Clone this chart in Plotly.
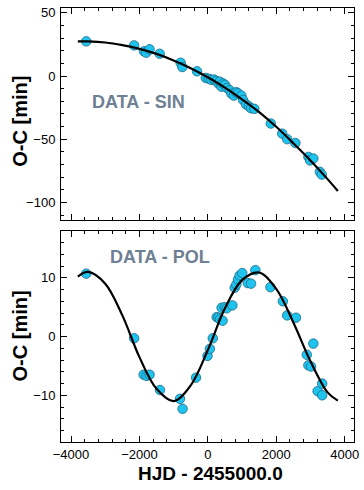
import plotly.graph_objects as go

# ---- Top panel: DATA - SIN ----
sin_x = [-3555, -2155, -1868, -1801, -1704, -1408, -796, -747, -316, -60, 30, 100, 180,
         250, 310, 350, 400, 450, 500, 560, 640, 690, 760, 830, 880, 980, 1030, 1120,
         1200, 1260, 1360, 1840, 2175, 2320, 2560, 2940, 2990, 3085, 3275, 3330]
sin_y = [27.4, 24.2, 19.5, 18.4, 21.1, 17.6, 10.5, 7.1, 3.7, -1.5, -2.2, -3.0, -2.8,
         -4.0, -6.0, -4.5, -8.5, -6.0, -7.0, -9.5, -11.3, -14.0, -15.5, -12.8, -13.6,
         -15.5, -19.0, -22.5, -24.0, -25.5, -26.0, -37.6, -45.6, -50.0, -53.0, -64.0,
         -66.8, -65.3, -75.8, -78.0]
fit_sin_x = [-3800, -3500, -3000, -2500, -2000, -1500, -1000, -500, 0, 500, 1000,
             1500, 2000, 2500, 3000, 3500, 3800]
fit_sin_y = [27.4, 27.4, 26.5, 24.4, 21.5, 17.5, 12.3, 6.2, -1.0, -9.2, -18.5,
             -28.5, -40.2, -53.2, -66.8, -81.6, -91.0]

# ---- Bottom panel: DATA - POL ----
pol_x = [-3555, -2155, -1877, -1790, -1704, -1400, -814, -739, -345, -10, 60, 144,
         259, 310, 354, 402, 430, 497, 550, 718, 785, 833, 882, 930, 1006, 1169, 1264,
         1389, 1830, 2193, 2319, 2577, 2893, 2940, 3017, 3084, 3209, 3342, 3342]
pol_y = [10.7, -0.3, -6.5, -6.7, -6.5, -9.1, -10.6, -12.3, -7.0, -3.3, -2.1, -0.3,
         3.3, 3.2, 2.9, 4.9, 2.7, 5.0, 4.8, 5.3, 8.3, 8.85, 9.7, 10.4, 10.8, 9.1, 9.0,
         11.3, 8.4, 6.0, 3.6, 3.2, -3.1, -4.9, -5.1, -1.2, -9.3, -8.0, -10.0]
fit_pol_x = [-3800, -3500, -3000, -2500, -2000, -1500, -1000, -500, 0, 500, 1000,
             1500, 2000, 2500, 3000, 3500, 3800]
fit_pol_y = [10.2, 11.0, 9.0, 3.6, -3.5, -8.9, -11.0, -8.3, -2.3, 4.8, 9.6, 10.9,
             8.1, 2.4, -4.2, -9.5, -10.9]

x_range = [-4293, 4273]
top_y_range = [-113.8, 53.8]
bot_y_range = [-17.95, 18.0]

FONT = "Liberation Sans, Arial, Helvetica, sans-serif"
marker = dict(size=9.5, color="#1fc4ee", line=dict(color="#1d6a86", width=0.8))
fitline = dict(color="black", width=2.2, shape="spline")

fig = go.Figure()
fig.add_trace(go.Scatter(x=sin_x, y=sin_y, mode="markers", marker=marker,
                         xaxis="x", yaxis="y", showlegend=False))
fig.add_trace(go.Scatter(x=fit_sin_x, y=fit_sin_y, mode="lines", line=fitline,
                         xaxis="x", yaxis="y", showlegend=False))
fig.add_trace(go.Scatter(x=pol_x, y=pol_y, mode="markers", marker=marker,
                         xaxis="x2", yaxis="y2", showlegend=False))
fig.add_trace(go.Scatter(x=fit_pol_x, y=fit_pol_y, mode="lines", line=fitline,
                         xaxis="x2", yaxis="y2", showlegend=False))

def axis_common(**kw):
    d = dict(showline=True, linecolor="black", linewidth=1, mirror="ticks",
             ticks="inside", ticklen=6, tickcolor="black", tickwidth=1,
             showgrid=False, zeroline=False,
             tickfont=dict(family=FONT, size=13, color="black"))
    d.update(kw)
    return d

fig.update_layout(
    width=364, height=490,
    margin=dict(l=61, r=5, t=5, b=48),
    paper_bgcolor="white", plot_bgcolor="white",
    font=dict(family=FONT, color="black"),
    xaxis=axis_common(domain=[0, 1], range=x_range, anchor="y", tick0=0, dtick=2000,
                      showticklabels=False,
                      minor=dict(dtick=400, tick0=0, ticks="inside", ticklen=3,
                                 tickcolor="black")),
    yaxis=axis_common(domain=[0.5119, 1], range=top_y_range, anchor="x", tick0=0,
                      dtick=50, ticklabelstandoff=2,
                      minor=dict(dtick=10, tick0=0, ticks="inside", ticklen=3,
                                 tickcolor="black")),
    xaxis2=axis_common(domain=[0, 1], range=x_range, anchor="y2", tick0=0, dtick=2000,
                       minor=dict(dtick=400, tick0=0, ticks="inside", ticklen=3,
                                  tickcolor="black")),
    yaxis2=axis_common(domain=[0, 0.4867], range=bot_y_range, anchor="x2", tick0=0,
                       dtick=10, ticklabelstandoff=2,
                       minor=dict(dtick=2, tick0=0, ticks="inside", ticklen=3,
                                  tickcolor="black")),
)

label_color = "#6e8093"
fig.add_annotation(x=-2017, y=-20.8, xref="x", yref="y", text="<b>DATA - SIN</b>",
                   showarrow=False, xanchor="center", yanchor="middle",
                   font=dict(family=FONT, size=18, color=label_color))
fig.add_annotation(x=-1394, y=13.56, xref="x2", yref="y2", text="<b>DATA - POL</b>",
                   showarrow=False, xanchor="center", yanchor="middle",
                   font=dict(family=FONT, size=18, color=label_color))

# Axis titles
for yc in (0.738, 0.2432):
    fig.add_annotation(x=0, y=yc, xref="paper", yref="paper", xshift=-41,
                       xanchor="center", yanchor="middle",
                       text="<b>O-C [min]</b>", textangle=-90, showarrow=False,
                       font=dict(family=FONT, size=20, color="black"))
fig.add_annotation(x=0.51, y=-0.073, xref="paper", yref="paper",
                   xanchor="center", yanchor="middle",
                   text="<b>HJD - 2455000.0</b>", showarrow=False,
                   font=dict(family=FONT, size=19, color="black"))

fig.write_html("out.html")
